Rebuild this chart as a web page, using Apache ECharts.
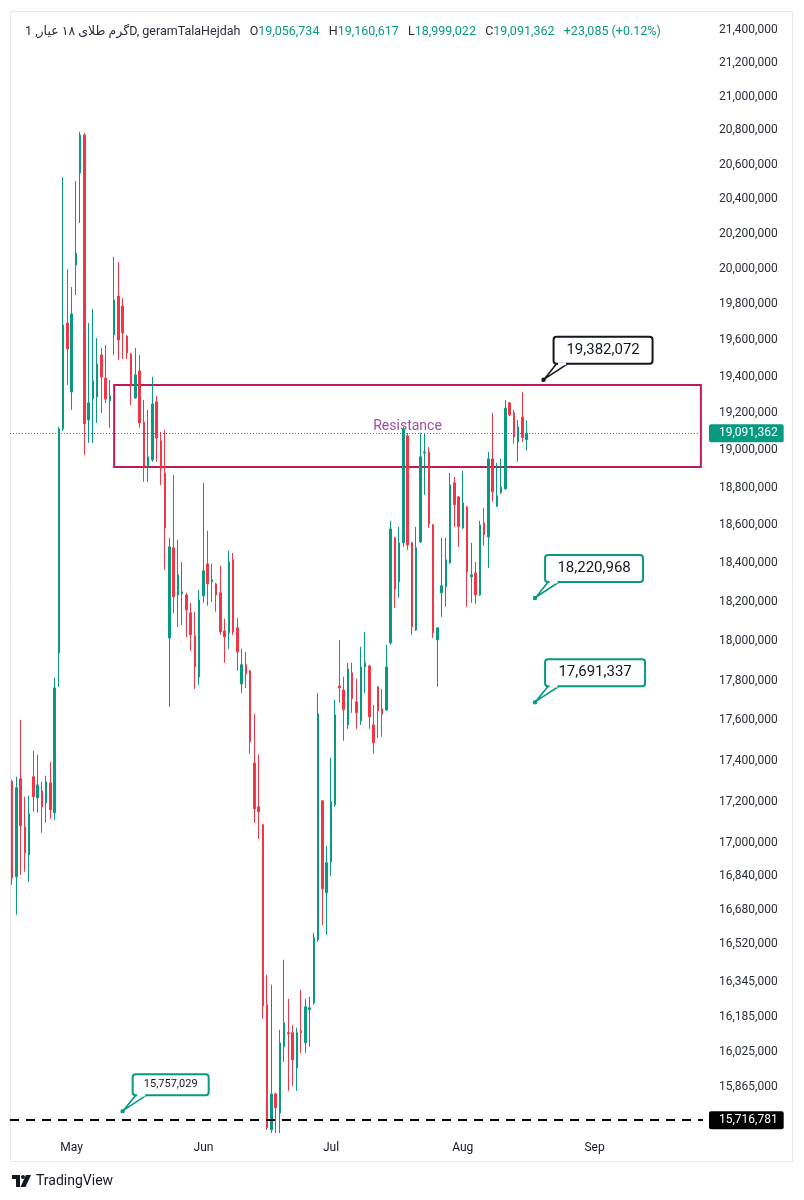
<!DOCTYPE html>
<html>
<head>
<meta charset="utf-8">
<script src="https://cdn.jsdelivr.net/npm/echarts@6/dist/echarts.min.js"></script>
<style>html,body{margin:0;padding:0;background:#fff}#c{width:804px;height:1200px}</style>
</head>
<body>
<div id="c"></div>
<script>
// ---------- DATA ----------
const symbolName = 'گرم طلای ۱۸ عیار, 1D, geramTalaHejdah';
const firstDay = '2023-04-17';
const dayCount = 163;   // visible calendar days (daily bars + empty future space)
const monthNames = ['Jan','Feb','Mar','Apr','May','Jun','Jul','Aug','Sep','Oct','Nov','Dec'];

const opens = [17299000,16838000,17312000,17078000,16943000,17322000,17219000,17253000,17194000,17292000,
17146000,17940000,19115000,19696000,19316000,20022000,20551000,20773000,19163000,19278000,
19289000,19519000,19392000,19267000,19630000,19847000,19791000,19624000,19525000,19283000,
19431000,19152000,18910000,18948000,19261000,19050000,18878000,18016000,18482000,18237000,
18242000,18237000,18145000,18027000,17818000,18232000,18398000,18305000,18294000,18248000,
18052000,18042000,18419000,18068000,17783000,17880000,17849000,17390000,17175000,17088000,
16239000,15674000,15834000,15749000,16047000,16111000,16111000,15951000,16120000,16065000,
16216000,16248000,16540000,17204000,16762000,16910000,17185000,17773000,17753000,17578000,
17839000,17693000,17598000,17869000,17874000,17578000,17768000,17658000,17653000,17991000,
18534000,18305000,18508000,19077000,18508000,18057000,18513000,18985000,18990000,18602000,
18006000,18248000,18279000,18403000,18825000,18750000,18586000,18697000,18331000,18351000,
18237000,18613000,18539000,18953000,18702000,18772000,18793000,19256000,19201000,19044000,
19179000,19056734];
const highs = [17307000,17322000,17603000,17224000,17229000,17450000,17430000,17297000,17327000,17395000,
17814000,19125000,20527000,19999000,19898000,20504000,20791000,20785000,19696000,19774000,
19613000,19558000,19574000,19381000,20068000,20039000,19836000,19630000,19530000,19558000,
19519000,19272000,19218000,19398000,19294000,19098000,19109000,18534000,18867000,18524000,
18408000,18248000,18196000,18150000,18263000,18825000,18571000,18398000,18299000,18388000,
18114000,18466000,18455000,18119000,17961000,17945000,17854000,17633000,17430000,17093000,
16377000,16331000,15840000,16124000,16447000,16266000,16147000,16133000,16308000,16266000,
16276000,16573000,17738000,17209000,16986000,17415000,17703000,18006000,17819000,17890000,
17890000,17809000,17971000,18047000,17880000,17678000,17773000,17758000,17981000,18623000,
18540000,18592000,19125000,19093000,18513000,18592000,19093000,19093000,19017000,18607000,
18068000,18534000,18534000,18878000,18857000,18755000,18889000,18702000,18508000,18408000,
18623000,18692000,18990000,19201000,18932000,18953000,19272000,19261000,19218000,19163000,
19316000,19160617];
const lows = [16800000,16658000,16847000,16862000,16814000,17151000,17146000,17049000,17097000,17117000,
17112000,17768000,19104000,19354000,19218000,19853000,20262000,18974000,19039000,19039000,
19147000,19201000,19256000,19121000,19519000,19491000,19497000,19497000,19245000,19278000,
19121000,18830000,18830000,18937000,18937000,18814000,18367000,17668000,18145000,18073000,
18083000,18021000,17950000,17758000,17778000,18196000,18181000,18201000,18150000,18032000,
17890000,17961000,18032000,17849000,17738000,17763000,17435000,17097000,17020000,16174000,
15674000,15660000,15660000,15660000,15978000,15848000,15870000,15848000,16019000,16019000,
16047000,16239000,16530000,16610000,16564000,16843000,17175000,17688000,17499000,17558000,
17638000,17558000,17578000,17738000,17558000,17435000,17514000,17519000,17648000,17981000,
18170000,18222000,18487000,18471000,18032000,18052000,18508000,18761000,18586000,18016000,
17768000,18124000,18176000,18398000,18592000,18487000,18581000,18176000,18196000,18191000,
18232000,18492000,18377000,18724000,18697000,18767000,18788000,19185000,19034000,18937000,
19044000,18999022];
const closes = [16833000,17268000,17083000,16953000,17141000,17224000,17282000,17175000,17297000,17160000,
17763000,19115000,19685000,19552000,19747000,20090000,20773000,19142000,19256000,19376000,
19469000,19398000,19278000,19294000,19825000,19602000,19641000,19530000,19349000,19409000,
19147000,18910000,18964000,19250000,19066000,18900000,18586000,18487000,18227000,18341000,
18253000,18160000,18032000,17869000,18211000,18362000,18294000,18315000,18237000,18047000,
18021000,18408000,18047000,17945000,17880000,17834000,17494000,17165000,17151000,16234000,
15683000,15834000,15772000,16065000,16156000,16106000,15987000,16111000,16111000,16230000,
16225000,16550000,17633000,16781000,16905000,17199000,17628000,17763000,17653000,17859000,
17708000,17638000,17869000,17890000,17618000,17489000,17648000,17633000,17869000,18581000,
18268000,18508000,19115000,18497000,18073000,18482000,18964000,18990000,18607000,18042000,
18068000,18284000,18419000,18814000,18708000,18592000,18718000,18356000,18341000,18237000,
18602000,18550000,18953000,18777000,18756000,18803000,19228000,19190000,19071000,19125000,
19068277,19091362];

const yTicks = [21400000,21200000,21000000,20800000,20600000,20400000,20200000,20000000,19800000,
19600000,19400000,19200000,19000000,18800000,18600000,18400000,18200000,18000000,17800000,17600000,
17400000,17200000,17000000,16840000,16680000,16520000,16345000,16185000,16025000,15865000];

const resistanceZone = [18909500, 19353500];      // bottom, top
const resistanceFrom = 24;                        // bar index where the box starts
const supportLine = 15716781;
const calloutDates = ['2023-08-20','2023-08-18','2023-08-18','2023-05-13'];
const calloutValues = [19382072, 18220968, 17691337, 15757029];

// ---------- STYLE ----------
const UP = '#089981', DOWN = '#f23645', TXT = '#131722';
const FF = 'Roboto, "DejaVu Sans", sans-serif';
const calloutLook = [
  {stroke:'#131722', w:99, h:27, font:15},
  {stroke:'#089981', w:98, h:27, font:15},
  {stroke:'#089981', w:100, h:27, font:15},
  {stroke:'#089981', w:76, h:21, font:11}
];
const yMin = 15668800, yMax = 21521500;

// ---------- BUILD ----------
const fmt = v => Math.round(v).toLocaleString('en-US');
const categories = [];
{
  let t = Date.parse(firstDay + 'T00:00:00Z');
  for (let i = 0; i < dayCount; i++) { categories.push(new Date(t).toISOString().slice(0,10)); t += 86400000; }
}
const candleData = opens.map((o, i) => [o, closes[i], lows[i], highs[i]]);
const n = opens.length;
const lastO = opens[n-1], lastH = highs[n-1], lastL = lows[n-1], lastC = closes[n-1];
const chg = lastC - closes[n-2];
const pct = chg / closes[n-2] * 100;
const sign = chg >= 0 ? '+' : '-';

const gap = '   ';
const headerText = `{n|${symbolName}}${gap}{k|O}{v|${fmt(lastO)}}${gap}{k|H}{v|${fmt(lastH)}}${gap}{k|L}{v|${fmt(lastL)}}${gap}{k|C}{v|${fmt(lastC)}}${gap}{v|${sign}${fmt(Math.abs(chg))} (${sign}${Math.abs(pct).toFixed(2)}%)}`;

const chart = echarts.init(document.getElementById('c'), null, {renderer:'canvas', width:804, height:1200});

const option = {
  animation: false,
  backgroundColor: '#ffffff',
  textStyle: {fontFamily: FF},
  title: {
    left: 20, top: 20,
    text: headerText,
    textStyle: {
      fontSize: 12.5, fontWeight: 'normal',
      rich: {
        n: {color: '#2a2e39', fontSize: 12.5, fontWeight: 'normal', fontFamily: FF},
        k: {color: '#2a2e39', fontSize: 12.5, fontWeight: 'normal', fontFamily: FF},
        v: {color: UP, fontSize: 12.5, fontWeight: 'normal', fontFamily: FF}
      }
    }
  },
  grid: {left: 10, right: 101, top: 10, bottom: 69},
  xAxis: {
    type: 'category', data: categories, boundaryGap: true,
    axisLine: {show: false}, axisTick: {show: false}, splitLine: {show: false},
    axisLabel: {
      interval: (idx, val) => val.slice(8) === '01',
      formatter: val => monthNames[+val.slice(5,7) - 1],
      color: TXT, fontSize: 12, margin: 11, fontFamily: FF
    }
  },
  yAxis: {
    type: 'log', position: 'right', min: yMin, max: yMax,
    axisLine: {show: false}, axisTick: {show: false, customValues: yTicks}, splitLine: {show: false},
    axisLabel: {customValues: yTicks, formatter: v => fmt(v), color: '#2a2e39', fontSize: 12, margin: 16, fontFamily: FF}
  },
  series: [
    {
      type: 'candlestick',
      data: candleData,
      barWidth: 2,
      clip: true,
      itemStyle: {color: UP, color0: DOWN, borderColor: UP, borderColor0: DOWN, borderWidth: 1},
      emphasis: {disabled: true},
      markArea: {
        silent: true,
        itemStyle: {color: 'rgba(255,255,255,0)', borderColor: '#c2185b', borderWidth: 2},
        label: {show: true, position: 'inside', color: '#a04ea6', fontSize: 14, fontFamily: FF},
        data: [[
          {name: 'Resistance', xAxis: categories[resistanceFrom], yAxis: resistanceZone[1]},
          {xAxis: categories[dayCount - 1], yAxis: resistanceZone[0]}
        ]]
      },
      markLine: {
        silent: true, symbol: ['none', 'none'],
        data: [
          {yAxis: lastC, lineStyle: {color: UP, type: [1, 2], width: 1},
           label: {show: true, position: 'end', distance: 6, formatter: p => fmt(p.value), color: '#fff',
                   backgroundColor: UP, padding: [3, 6, 3, 10], fontSize: 12, borderRadius: 2, fontFamily: FF}},
          {yAxis: supportLine, lineStyle: {color: '#000', type: [9, 7], width: 2},
           label: {show: true, position: 'end', distance: 6, formatter: p => fmt(p.value), color: '#fff',
                   backgroundColor: '#000', padding: [3, 6, 3, 10], fontSize: 12, borderRadius: 2, fontFamily: FF}}
        ]
      }
    },
    {
      type: 'custom',
      clip: false,
      z: 10,
      silent: true,
      data: calloutDates.map((d, i) => [d, calloutValues[i]]),
      encode: {x: 0, y: 1},
      renderItem: (params, api) => {
        const i = params.dataIndex;
        const look = calloutLook[i];
        const p = api.coord([api.value(0), api.value(1)]);
        const bx = p[0] + 10, bottom = p[1] - 16, by = bottom - look.h;
        return {
          type: 'group',
          children: [
            {type: 'polygon', shape: {points: [[bx + 3, bottom], [p[0] + 1, p[1] - 1], [bx + 14, bottom]]},
             style: {fill: '#fff', stroke: look.stroke, lineWidth: 1.6}},
            {type: 'rect', shape: {x: bx, y: by, width: look.w, height: look.h, r: 3},
             style: {fill: '#fff', stroke: look.stroke, lineWidth: 2}},
            {type: 'line', shape: {x1: bx + 4.5, y1: bottom, x2: bx + 12.5, y2: bottom},
             style: {stroke: '#fff', lineWidth: 2.6}},
            {type: 'circle', shape: {cx: p[0], cy: p[1], r: 2.2}, style: {fill: look.stroke}},
            {type: 'text', x: bx + look.w / 2, y: by + look.h / 2,
             style: {text: fmt(calloutValues[i]), fill: TXT, fontSize: look.font, fontFamily: FF,
                     fontWeight: 'normal', align: 'center', verticalAlign: 'middle'}}
          ]
        };
      }
    }
  ],
  graphic: [
    {type: 'rect', silent: true, z: -10, shape: {x: 10.5, y: 11.5, width: 782, height: 1150},
     style: {fill: 'none', stroke: '#e6e8ee', lineWidth: 1}},
    {type: 'polygon', silent: true, shape: {points: [[12,1175],[20,1175],[20,1187],[16,1187],[16,1179],[12,1179]]}, style: {fill: TXT}},
    {type: 'circle', silent: true, shape: {cx: 23, cy: 1177, r: 2}, style: {fill: TXT}},
    {type: 'polygon', silent: true, shape: {points: [[26,1175],[31,1175],[25.5,1187],[20.5,1187]]}, style: {fill: TXT}},
    {type: 'text', silent: true, x: 36, y: 1181,
     style: {text: 'TradingView', fill: TXT, fontSize: 14, fontFamily: FF, verticalAlign: 'middle'}}
  ]
};
chart.setOption(option);
</script>
</body>
</html>
